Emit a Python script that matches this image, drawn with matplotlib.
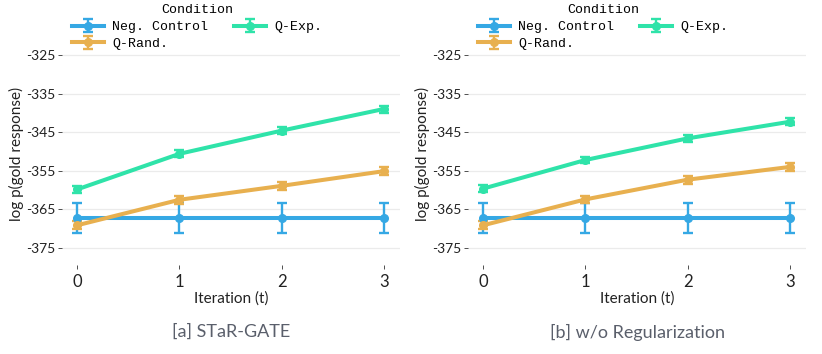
import numpy as np
import matplotlib.pyplot as plt

# values
iterations = [0, 1, 2, 3]

neg_a = [-367.3, -367.3, -367.3, -367.3]
neg_a_err = [3.9, 3.9, 3.9, 3.9]
rand_a = [-369.1, -362.5, -358.9, -355.1]
rand_a_err = [1.0, 1.0, 1.0, 1.0]
exp_a = [-359.8, -350.6, -344.6, -339.0]
exp_a_err = [0.9, 0.9, 0.9, 0.9]

neg_b = [-367.3, -367.3, -367.3, -367.3]
neg_b_err = [3.9, 3.9, 3.9, 3.9]
rand_b = [-369.1, -362.4, -357.3, -354.0]
rand_b_err = [1.0, 1.0, 1.0, 1.0]
exp_b = [-359.6, -352.2, -346.6, -342.3]
exp_b_err = [0.9, 0.9, 0.9, 0.9]

yticks = [-375, -365, -355, -345, -335, -325]
captions = ["[a] STaR-GATE", "[b] w/o Regularization"]

c_neg = "#35A8E4"
c_rand = "#E8B04F"
c_exp = "#2FE3A9"

plt.rcParams['font.family'] = ['Lato', 'DejaVu Sans']
plt.rcParams['axes.unicode_minus'] = False

fig = plt.figure(figsize=(8.22, 3.54), dpi=100)
W, H = 822, 354


def make_ax(left, right, top, bottom):
    return fig.add_axes([left / W, 1 - bottom / H, (right - left) / W, (bottom - top) / H])


axes = [make_ax(62, 400, 43.4, 265.4), make_ax(468, 806, 43.4, 265.4)]
panels = [(neg_a, neg_a_err, rand_a, rand_a_err, exp_a, exp_a_err),
          (neg_b, neg_b_err, rand_b, rand_b_err, exp_b, exp_b_err)]

for ax, (neg, neg_e, rnd, rnd_e, ex, ex_e), cap in zip(axes, panels, captions):
    kw = dict(lw=2.9, marker='o', ms=5.5, capsize=3.5, elinewidth=1.7, capthick=1.7)
    h1 = ax.errorbar(iterations, neg, yerr=neg_e, color=c_neg, label="Neg. Control", **kw)
    h2 = ax.errorbar(iterations, rnd, yerr=rnd_e, color=c_rand, label="Q-Rand.", **kw)
    h3 = ax.errorbar(iterations, ex, yerr=ex_e, color=c_exp, label="Q-Exp.", **kw)

    ax.set_xlim(-0.15, 3.16)
    ax.set_ylim(-379.5, -322)
    ax.set_xticks(iterations)
    ax.set_yticks(yticks)
    ax.grid(axis='y', color='#ebebeb', lw=0.9)
    ax.set_axisbelow(True)
    for s in ax.spines.values():
        s.set_visible(False)
    ax.tick_params(axis='both', length=3, width=0.6, color='#333333', labelsize=10,
                   labelcolor='#222222')
    ax.tick_params(axis='x', pad=3, labelsize=12)
    ax.tick_params(axis='y', pad=1.5)
    ax.set_xlabel("Iteration (t)", fontsize=11, color='#222222', labelpad=1)
    ax.set_ylabel("log p(gold response)", fontsize=11, color='#222222')
    ax.yaxis.set_label_coords(-0.112, 0.5)
    ax.text(0.5, -0.30, cap, transform=ax.transAxes, ha='center', va='center',
            fontsize=13, color='#5a5f6b')

    leg = ax.legend(handles=[h1, h2, h3], labels=["Neg. Control", "Q-Rand.", "Q-Exp."],
                    ncol=2, loc='upper center',
                    bbox_to_anchor=(0.40, 1.2),
                    frameon=False, title="Condition",
                    prop={'family': 'Liberation Mono', 'size': 9.5},
                    handlelength=2.4, columnspacing=2.0, labelspacing=0.35,
                    borderaxespad=0, handletextpad=0.6)
    leg.get_title().set_fontfamily('Liberation Mono')
    leg.get_title().set_fontsize(9.5)

fig.savefig("out.png", dpi=100)
